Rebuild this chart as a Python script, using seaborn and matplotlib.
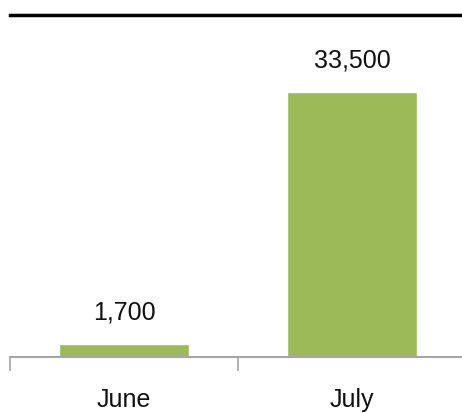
import matplotlib
matplotlib.use("Agg")
import matplotlib.pyplot as plt
import seaborn as sns

# data
months = ["June", "July"]
visitors = [1700, 33500]

sns.set_style("white")
plt.rcParams['font.family'] = ['Liberation Sans', 'DejaVu Sans']

W, H = 462, 413
fig = plt.figure(figsize=(W / 100, H / 100), dpi=100)
# plot area: x 10..466 px, y 15..357 px (from top)
ax = fig.add_axes([10 / W, (H - 357) / H, 456 / W, (357 - 15) / H])

sns.barplot(x=months, y=visitors, color="#9BBB59", saturation=1,
            width=0.57, ax=ax)

ax.set_xlim(-0.5, 1.5)
ax.set_ylim(0, 43200)
ax.set_xlabel("")
ax.set_ylabel("")
ax.set_yticks([])

# category boundary ticks
ax.set_xticks([-0.5, 0.5, 1.5], minor=True)
ax.tick_params(axis='x', which='both', bottom=True)
ax.tick_params(axis='x', which='minor', length=10, width=1.2,
               color='#a6a6a6', direction='out')
ax.tick_params(axis='x', which='major', length=0, pad=22, labelsize=18,
               labelcolor='#111111')

for side in ['left', 'right']:
    ax.spines[side].set_visible(False)
ax.spines['bottom'].set_color('#a6a6a6')
ax.spines['bottom'].set_linewidth(1.5)
ax.spines['top'].set_color('black')
ax.spines['top'].set_linewidth(2.5)

for c in ax.containers:
    ax.bar_label(c, fmt='{:,.0f}', padding=14, fontsize=18, color='#111111')

fig.savefig("out.png", dpi=100)
